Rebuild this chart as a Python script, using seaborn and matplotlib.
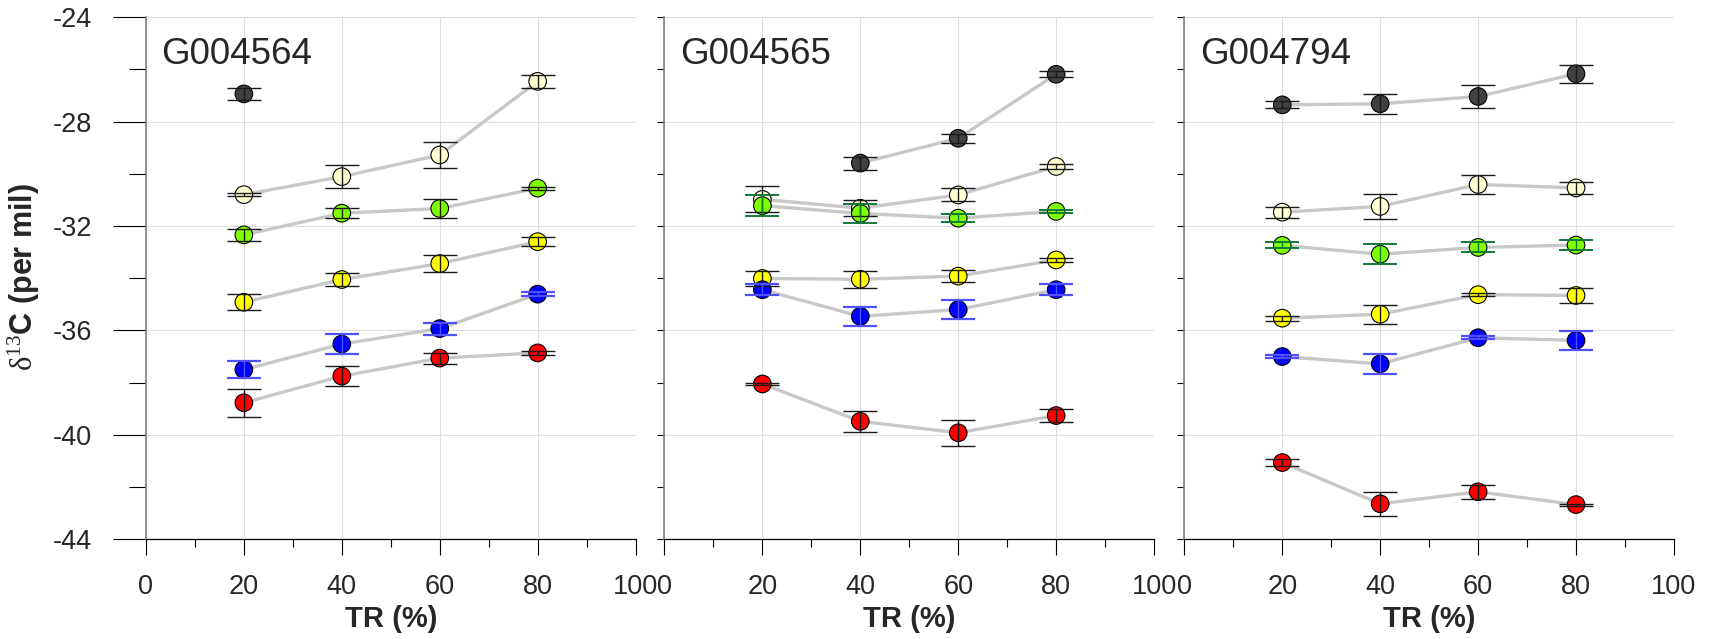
import numpy as np
import pandas as pd
import matplotlib
matplotlib.use("Agg")
import matplotlib.pyplot as plt
from matplotlib.ticker import MultipleLocator
import seaborn as sns

nan = np.nan

# Thermal-release steps (%) at which each fraction was measured
tr = [20, 40, 60, 80]
cores = ["G004564", "G004565", "G004794"]
fractions = ["charcoal", "cream", "lime", "yellow", "blue", "red"]

# Mean d13C (per mil) per fraction, one dict per core
mean_G004564 = {
    "charcoal": [-26.94, nan, nan, nan],
    "cream": [-30.80, -30.11, -29.28, -26.46],
    "lime": [-32.34, -31.51, -31.33, -30.55],
    "yellow": [-34.92, -34.05, -33.44, -32.60],
    "blue": [-37.50, -36.52, -35.93, -34.61],
    "red": [-38.77, -37.75, -37.06, -36.86],
}
sd_G004564 = {
    "charcoal": [0.23, nan, nan, nan],
    "cream": [0.06, 0.45, 0.51, 0.25],
    "lime": [0.22, 0.19, 0.37, 0.06],
    "yellow": [0.30, 0.25, 0.32, 0.16],
    "blue": [0.33, 0.37, 0.23, 0.07],
    "red": [0.53, 0.38, 0.21, 0.09],
}

mean_G004565 = {
    "charcoal": [nan, -29.59, -28.64, -26.19],
    "cream": [-30.98, -31.32, -30.81, -29.72],
    "lime": [-31.22, -31.52, -31.70, -31.44],
    "yellow": [-34.01, -34.04, -33.92, -33.30],
    "blue": [-34.44, -35.46, -35.20, -34.44],
    "red": [-38.05, -39.48, -39.92, -39.26],
}
sd_G004565 = {
    "charcoal": [nan, 0.25, 0.18, 0.11],
    "cream": [0.50, 0.30, 0.25, 0.10],
    "lime": [0.41, 0.36, 0.15, 0.07],
    "yellow": [0.30, 0.33, 0.22, 0.09],
    "blue": [0.20, 0.36, 0.38, 0.20],
    "red": [0.04, 0.41, 0.49, 0.26],
}

mean_G004794 = {
    "charcoal": [-27.36, -27.32, -27.04, -26.17],
    "cream": [-31.47, -31.25, -30.41, -30.54],
    "lime": [-32.74, -33.08, -32.82, -32.73],
    "yellow": [-35.53, -35.38, -34.63, -34.66],
    "blue": [-37.00, -37.28, -36.28, -36.38],
    "red": [-41.06, -42.64, -42.18, -42.67],
}
sd_G004794 = {
    "charcoal": [0.13, 0.39, 0.44, 0.34],
    "cream": [0.21, 0.48, 0.38, 0.23],
    "lime": [0.11, 0.38, 0.19, 0.20],
    "yellow": [0.10, 0.36, 0.06, 0.28],
    "blue": [0.05, 0.37, 0.05, 0.37],
    "red": [0.12, 0.46, 0.27, 0.04],
}

means = {"G004564": mean_G004564, "G004565": mean_G004565, "G004794": mean_G004794}
sds = {"G004564": sd_G004564, "G004565": sd_G004565, "G004794": sd_G004794}

face_colors = {
    "charcoal": "#404040",
    "cream": "#ffffd2",
    "lime": "#80ff00",
    "yellow": "#ffff00",
    "blue": "#0000ff",
    "red": "#ff0000",
}

sns.set_style("white")
plt.rcParams["font.family"] = ["Liberation Sans", "DejaVu Sans"]
plt.rcParams["axes.unicode_minus"] = False
plt.rcParams["mathtext.fontset"] = "custom"
plt.rcParams["mathtext.rm"] = "Liberation Serif"
plt.rcParams["mathtext.it"] = "Liberation Serif:italic"
plt.rcParams["mathtext.bf"] = "Liberation Serif:bold"

fig = plt.figure(figsize=(17.09, 6.39), dpi=100)
lefts = [0.0854, 0.3888, 0.6930]

for i, core in enumerate(cores):
    ax = fig.add_axes([lefts[i], 0.1560, 0.2865, 0.8172])

    rows = []
    for f in fractions:
        for x, m, s in zip(tr, means[core][f], sds[core][f]):
            if not np.isnan(m):
                rows.append({"TR": x, "d13C": m, "sd": s, "fraction": f})
    df = pd.DataFrame(rows)

    # connecting lines, one per fraction
    sns.lineplot(data=df, x="TR", y="d13C", units="fraction", estimator=None,
                 color="#c8c8c8", linewidth=2.4, ax=ax, zorder=2, legend=False)

    # markers
    sns.scatterplot(data=df, x="TR", y="d13C", hue="fraction", palette=face_colors,
                    s=160, edgecolor="black", linewidth=0.8, ax=ax, zorder=3,
                    legend=False)

    # error bars on top of the markers
    for f in fractions:
        sub = df[df["fraction"] == f]
        if sub.empty:
            continue
        ecolor, cth = "#1a1a1a", 1.0
        if f == "blue":
            ecolor, cth = "#5050ff", 1.6
        elif f == "lime" and i > 0:
            ecolor, cth = "#107a3a", 1.4
        ax.errorbar(sub["TR"], sub["d13C"], yerr=sub["sd"], fmt="none",
                    ecolor=ecolor, elinewidth=1.0, capsize=12.2, capthick=cth,
                    zorder=4)

    ax.set_xlim(0, 100)
    ax.set_ylim(-44, -24)
    ax.xaxis.set_major_locator(MultipleLocator(20))
    ax.xaxis.set_minor_locator(MultipleLocator(10))
    ax.yaxis.set_major_locator(MultipleLocator(4))
    ax.yaxis.set_minor_locator(MultipleLocator(2))

    ax.grid(True, which="major", color="#dedede", linewidth=0.8)
    ax.set_axisbelow(True)

    ax.tick_params(axis="x", which="major", bottom=True, direction="out",
                   length=11.5, width=0.8, color="black", pad=13.5,
                   labelsize=19.5)
    ax.tick_params(axis="x", which="minor", bottom=True, direction="out",
                   length=5.8, width=0.8, color="black")
    if i == 0:
        ax.tick_params(axis="y", which="major", left=True, direction="out",
                       length=23.8, width=0.8, color="black", pad=15,
                       labelsize=19.5)
        ax.tick_params(axis="y", which="minor", left=True, direction="out",
                       length=12.2, width=0.8, color="black")
    else:
        ax.tick_params(axis="y", which="both", left=True, direction="out",
                       length=5, width=0.8, color="black", labelleft=False)

    for side in ("top", "right"):
        ax.spines[side].set_visible(False)
    ax.spines["left"].set_color("#808080")
    ax.spines["left"].set_linewidth(1.2)
    ax.spines["bottom"].set_color("black")
    ax.spines["bottom"].set_linewidth(0.9)

    ax.set_ylabel("")
    ax.set_xlabel("TR (%)", fontsize=21, fontweight="bold")
    ax.xaxis.set_label_coords(0.5, -0.125)

    ax.text(0.032, 0.910, core, transform=ax.transAxes, fontsize=26.5,
            ha="left", va="baseline")

fig.text(24 / 1709, 1 - 277 / 639, r"$\mathrm{\delta}^{13}$C (per mil)",
         rotation=90, ha="center", va="center", fontsize=22, fontweight="bold")

fig.savefig("out.png", dpi=100)
